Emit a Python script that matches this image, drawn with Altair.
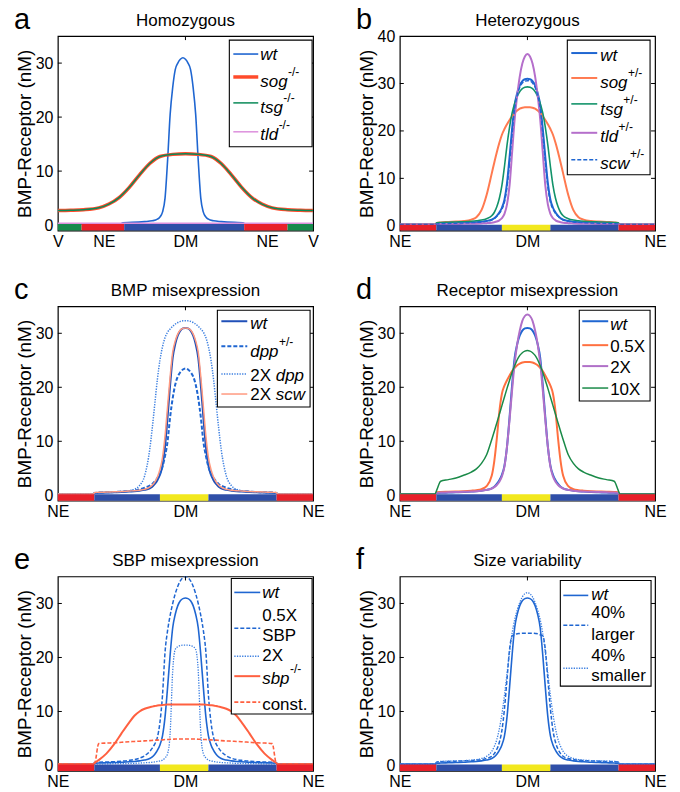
import altair as alt
import pandas as pd

FONT = "Liberation Sans"
BLUE = "#1F66D1"
LBLUE = "#3C7FE0"
RED_BAR, BLUE_BAR, YEL_BAR, GRN_BAR = "#E8202A", "#2F4FA8", "#F2E81E", "#168A4C"

# ---------------- data ----------------
# distance from the DM midline, fraction of the axis (panels b-f)
D = [0, .01, .02, .03, .04, .05, .06, .07, .08, .09, .10, .11, .12, .13, .14,
     .16, .18, .20, .22, .25, .28, .31, .34, .355, .362, .43, .5]

wt = [31, 30.9, 30.5, 29.6, 28.0, 25.5, 20.5, 14.5, 9.0, 5.5, 3.8, 2.8, 2.1, 1.6, 1.3,
      1.0, 0.85, 0.75, 0.7, 0.6, 0.55, 0.5, 0.45, 0.4, 0.25, 0.25, 0.25]
sog_het = [25, 25, 24.9, 24.7, 24.3, 23.8, 23.1, 22.3, 21.4, 20.4, 19.2, 17.5, 15.5, 13.3, 11.0,
           6.5, 3.3, 1.8, 1.3, 1.0, 0.9, 0.8, 0.7, 0.6, 0.25, 0.25, 0.25]
tsg_het = [29.3, 29.2, 28.9, 28.3, 27.3, 25.8, 23.8, 20.8, 17, 12.5, 8.5, 5.8, 4.0, 2.8, 2.1,
           1.5, 1.2, 1.05, 0.95, 0.85, 0.8, 0.75, 0.7, 0.65, 0.25, 0.25, 0.25]
tld_het = [36.2, 35.7, 34.2, 31.5, 27.5, 22.5, 15.5, 8.5, 4.5, 2.5, 1.6, 1.15, 0.9, 0.75, 0.65,
           0.55, 0.5, 0.45, 0.42, 0.4, 0.38, 0.36, 0.35, 0.34, 0.25, 0.25, 0.25]
scw_het = [30.6, 30.5, 30.1, 29.2, 27.5, 24.8, 19.5, 13.5, 8.2, 5.0, 3.5, 2.6, 2.0, 1.5, 1.2,
           0.95, 0.8, 0.72, 0.66, 0.6, 0.55, 0.5, 0.45, 0.4, 0.25, 0.25, 0.25]
dpp_het = [23.5, 23.3, 22.8, 22, 20.5, 18, 14.5, 10, 7.3, 5.3, 4.0, 3.2, 2.6, 2.1, 1.8,
           1.4, 1.1, 0.9, 0.8, 0.7, 0.6, 0.55, 0.5, 0.45, 0.25, 0.25, 0.25]
dpp_2x = [32.3, 32.3, 32.2, 32.0, 31.7, 31.3, 30.8, 30.2, 29.2, 27.5, 25, 21.5, 17, 12.5, 8.5,
          3.6, 1.8, 1.1, 0.85, 0.7, 0.6, 0.55, 0.5, 0.45, 0.25, 0.25, 0.25]
scw_2x = [31, 30.9, 30.6, 29.9, 28.6, 26.5, 22, 16.5, 11, 7, 4.8, 3.4, 2.5, 1.9, 1.5,
          1.1, 0.95, 0.85, 0.8, 0.7, 0.65, 0.6, 0.55, 0.5, 0.25, 0.25, 0.25]
rec_05x = [24.7, 24.7, 24.6, 24.4, 24.1, 23.6, 23, 22.2, 21.3, 20.3, 18.8, 15.5, 10.5, 6.3, 3.6,
           1.7, 1.15, 0.95, 0.85, 0.75, 0.7, 0.65, 0.6, 0.55, 0.25, 0.25, 0.25]
rec_2x = [33.5, 33.2, 32.3, 30.5, 28, 24.5, 19.5, 14, 9, 5.3, 3.5, 2.5, 1.9, 1.5, 1.25,
          1.0, 0.85, 0.75, 0.7, 0.65, 0.6, 0.55, 0.5, 0.45, 0.25, 0.25, 0.25]
rec_10x = [26.8, 26.7, 26.4, 25.9, 25.1, 24, 22.8, 21.3, 19.8, 18.2, 16.6, 15, 13.4, 11.8, 10.3,
           7.5, 5.9, 4.9, 4.3, 3.7, 3.2, 2.9, 2.6, 1.0, 0.25, 0.25, 0.25]
sbp_05x = [35, 34.8, 34.2, 33.2, 31.8, 30, 27.8, 25, 21, 13, 8, 5.2, 4.0, 3.2, 2.6,
           1.8, 1.35, 1.1, 0.95, 0.8, 0.7, 0.65, 0.6, 0.55, 0.25, 0.25, 0.25]
sbp_2x = [22.3, 22.3, 22.2, 22.0, 21.5, 17.5, 6, 2.2, 1.4, 1.0, 0.85, 0.75, 0.65, 0.6, 0.55,
          0.5, 0.45, 0.4, 0.38, 0.35, 0.33, 0.32, 0.3, 0.3, 0.25, 0.25, 0.25]
sbp_ko = [11.3, 11.3, 11.3, 11.3, 11.3, 11.3, 11.3, 11.3, 11.25, 11.2, 11.15, 11.1, 11.0, 10.9, 10.8,
          10.5, 10.0, 9.2, 8.0, 6.0, 3.9, 2.2, 1.0, 0.5, 0.25, 0.25, 0.25]
sbp_const = [4.9, 4.9, 4.9, 4.9, 4.9, 4.85, 4.85, 4.8, 4.8, 4.75, 4.75, 4.7, 4.7, 4.65, 4.6,
             4.55, 4.5, 4.45, 4.4, 4.3, 4.2, 4.15, 4.05, 0.5, 0.25, 0.25, 0.25]
size_larger = [24.5, 24.5, 24.5, 24.45, 24.4, 24.2, 24.0, 21.5, 16, 10.5, 6.5, 4.3, 3.0, 2.2, 1.7,
               1.3, 1.1, 1.0, 0.9, 0.85, 0.8, 0.75, 0.7, 0.65, 0.25, 0.25, 0.25]
size_smaller = [32, 31.8, 31.2, 30.2, 28.8, 27, 24.5, 21, 17, 13, 9.5, 6.8, 4.8, 3.5, 2.6,
                1.7, 1.3, 1.1, 1.0, 0.9, 0.85, 0.8, 0.75, 0.7, 0.25, 0.25, 0.25]

# panel a (V to V axis)
D_hom_wt = [0, .01, .02, .03, .04, .05, .06, .07, .08, .09, .10, .12, .15, .20, .235, .245, .30, .40, .51]
wt_hom = [31, 30.7, 30, 28.8, 25.5, 20.5, 12, 5, 2.4, 1.5, 1.1, 0.8, 0.65, 0.5, 0.45, 0.2, 0.2, 0.2, 0.2]
D_hom = [0, .05, .10, .14, .18, .22, .26, .30, .34, .40, .45, .5]
sog_hom = [13.2, 13.1, 12.7, 11.4, 9.3, 7.0, 5.1, 3.9, 3.2, 2.85, 2.75, 2.7]
tsg_hom = [13.2, 13.1, 12.7, 11.4, 9.3, 7.0, 5.1, 3.9, 3.2, 2.85, 2.75, 2.7]
D_flat = [0, 0.5]
tld_hom = [0.35, 0.35]

# tissue bars along the axis
bar_edges_hom = [0, 0.093, 0.26, 0.73, 0.9, 1.0]
bar_cols_hom = [GRN_BAR, RED_BAR, BLUE_BAR, RED_BAR, GRN_BAR]
bar_edges = [0, 0.143, 0.40, 0.59, 0.857, 1.0]
bar_cols = [RED_BAR, BLUE_BAR, YEL_BAR, BLUE_BAR, RED_BAR]

xticks_hom = [0, 0.18, 0.5, 0.82, 1]
xlabels_hom = ["V", "NE", "DM", "NE", "V"]
xticks_std = [0, 0.5, 1]
xlabels_std = ["NE", "DM", "NE"]

# ---------------- helpers ----------------
W = {" ": 278, "%": 889, "+": 584, "-": 333, ".": 278, "/": 278, "X": 667, "S": 667, "B": 667,
     "P": 667, "a": 556, "c": 500, "d": 556, "e": 556, "g": 556, "l": 222, "m": 833, "n": 556,
     "o": 556, "p": 556, "r": 333, "s": 500, "t": 278, "w": 722}


def tw(s, size):
    return sum(W.get(ch, 556) for ch in s) * size / 1000.0


def profile_table(center, offsets, values):
    rows = []
    for d, v in zip(offsets, values):
        rows.append((round(center - d, 4), v))
        if d > 0:
            rows.append((round(center + d, 4), v))
    rows.sort()
    return pd.DataFrame(rows, columns=["x", "y"])


def S(c, d, v, color, w=1.6, dash=None):
    return dict(c=c, d=d, v=v, color=color, w=w, dash=dash)


DASH = [4, 2]
DOT = [1.3, 1.3]

panels = [
    dict(letter="a", title="Homozygous", ymax=35, yticks=[0, 10, 20, 30],
         xticks=xticks_hom, xlabels=xlabels_hom, edges=bar_edges_hom, cols=bar_cols_hom,
         series=[S(0.49, D_hom_wt, wt_hom, BLUE, 1.6),
                 S(0.5, D_hom, sog_hom, "#FF4B2B", 3.5),
                 S(0.5, D_hom, tsg_hom, "#0A8A58", 1.5),
                 S(0.5, D_flat, tld_hom, "#DC8FDC", 1.5)],
         box=(172, 4, 255, 111), sample=(176, 201), tx=203,
         entries=[(18, [(19, [("wt", "i")])]),
                  (41, [(46, [("sog", "i"), ("-/-", "sup")])]),
                  (67, [(72, [("tsg", "i"), ("-/-", "sup")])]),
                  (96, [(99, [("tld", "i"), ("-/-", "sup")])])]),
    dict(letter="b", title="Heterozygous", ymax=40, yticks=[0, 10, 20, 30, 40],
         xticks=xticks_std, xlabels=xlabels_std, edges=bar_edges, cols=bar_cols,
         series=[S(0.5, D, wt, BLUE, 2.0),
                 S(0.5, D, sog_het, "#FF7A50", 2.0),
                 S(0.5, D, tsg_het, "#12936A", 1.6),
                 S(0.5, D, tld_het, "#B56FCB", 2.0),
                 S(0.5, D, scw_het, BLUE, 1.5, DASH)],
         box=(168, 4, 251, 139), sample=(172, 198), tx=201,
         entries=[(17, [(20, [("wt", "i")])]),
                  (42, [(47, [("sog", "i"), ("+/-", "sup")])]),
                  (68, [(74, [("tsg", "i"), ("+/-", "sup")])]),
                  (97, [(101, [("tld", "i"), ("+/-", "sup")])]),
                  (124, [(128, [("scw", "i"), ("+/-", "sup")])])]),
    dict(letter="c", title="BMP misexpression", ymax=35, yticks=[0, 10, 20, 30],
         xticks=xticks_std, xlabels=xlabels_std, edges=bar_edges, cols=bar_cols,
         series=[S(0.5, D, wt, "#2050B8", 2.0),
                 S(0.5, D, dpp_het, BLUE, 2.0, DASH),
                 S(0.5, D, dpp_2x, LBLUE, 1.5, DOT),
                 S(0.5, D, scw_2x, "#FF9A80", 1.5)],
         box=(160, 4, 253, 101), sample=(164, 190), tx=193,
         entries=[(15, [(18, [("wt", "i")])]),
                  (40, [(46, [("dpp", "i"), ("+/-", "sup")])]),
                  (68, [(70, [("2X ", "n"), ("dpp", "i")])]),
                  (88, [(89, [("2X ", "n"), ("scw", "i")])])]),
    dict(letter="d", title="Receptor misexpression", ymax=35, yticks=[0, 10, 20, 30],
         xticks=xticks_std, xlabels=xlabels_std, edges=bar_edges, cols=bar_cols,
         series=[S(0.5, D, wt, BLUE, 2.0),
                 S(0.5, D, rec_05x, "#FF7040", 2.0),
                 S(0.5, D, rec_2x, "#B070C8", 2.0),
                 S(0.5, D, rec_10x, "#1A8A48", 1.5)],
         box=(180, 4, 251, 95), sample=(183, 209), tx=211,
         entries=[(15, [(19, [("wt", "i")])]),
                  (39, [(41, [("0.5X", "n")])]),
                  (60, [(62, [("2X", "n")])]),
                  (82, [(84, [("10X", "n")])])]),
    dict(letter="e", title="SBP misexpression", ymax=35, yticks=[0, 10, 20, 30],
         xticks=xticks_std, xlabels=xlabels_std, edges=bar_edges, cols=bar_cols,
         series=[S(0.5, D, wt, BLUE, 1.6),
                 S(0.5, D, sbp_05x, BLUE, 1.5, DASH),
                 S(0.5, D, sbp_2x, LBLUE, 1.3, DOT),
                 S(0.5, D, sbp_ko, "#FF6040", 2.0),
                 S(0.5, D, sbp_const, "#FF6040", 1.6, DASH)],
         box=(174, 2, 255, 138), sample=(177, 203), tx=205,
         entries=[(16, [(17, [("wt", "i")])]),
                  (52, [(40, [("0.5X", "n")]), (60, [("SBP", "n")])]),
                  (80, [(80, [("2X", "n")])]),
                  (100, [(103, [("sbp", "i"), ("-/-", "sup")])]),
                  (126, [(129, [("const.", "n")])])]),
    dict(letter="f", title="Size variability", ymax=35, yticks=[0, 10, 20, 30],
         xticks=xticks_std, xlabels=xlabels_std, edges=bar_edges, cols=bar_cols,
         series=[S(0.5, D, wt, BLUE, 1.6),
                 S(0.5, D, size_larger, BLUE, 1.5, DASH),
                 S(0.5, D, size_smaller, LBLUE, 1.3, DOT)],
         box=(161, 4, 252, 110), sample=(164, 189), tx=192,
         entries=[(19, [(19, [("wt", "i")])]),
                  (49, [(37, [("40%", "n")]), (59, [("larger", "n")])]),
                  (92, [(80, [("40%", "n")]), (100, [("smaller", "n")])])]),
]

PW, PH = 256, 195
LFS, SFS = 17, 12
ONE = alt.Data(values=[{"k": 0}])


def make_panel(p):
    xs = alt.Scale(domain=[0, 1], nice=False, zero=False)
    ys = alt.Scale(domain=[-1, p["ymax"]], nice=False, zero=False)
    expr = ""
    for v, lab in zip(p["xticks"], p["xlabels"]):
        expr += f"datum.value == {v} ? '{lab}' : "
    expr += "''"
    xaxis = alt.Axis(values=p["xticks"], labelExpr=expr, title=None, labelPadding=3,
                     labelFlush=False, labelOverlap=False, labelBound=False)
    yaxis = alt.Axis(values=p["yticks"], title="BMP-Receptor (nM)", labelPadding=5,
                     titlePadding=1, labelOverlap=False)
    layers = []
    for s in p["series"]:
        df = profile_table(s["c"], s["d"], s["v"])
        mk = dict(color=s["color"], strokeWidth=s["w"], clip=True, interpolate="monotone")
        if s["dash"]:
            mk["strokeDash"] = s["dash"]
        layers.append(alt.Chart(df).mark_line(**mk).encode(
            x=alt.X("x:Q", scale=xs, axis=xaxis),
            y=alt.Y("y:Q", scale=ys, axis=yaxis)))
    bars = pd.DataFrame({"start": p["edges"][:-1], "end": p["edges"][1:], "col": p["cols"]})
    layers.append(alt.Chart(bars).mark_rect().encode(
        x=alt.X("start:Q", scale=xs, axis=xaxis), x2="end:Q",
        y=alt.datum(-1), y2=alt.datum(0.2),
        color=alt.Color("col:N", scale=None)))
    # inward MATLAB-style ticks
    yr = p["ymax"] + 1
    tx_len = 4.0 / PW
    ty_len = 4.0 * yr / PH
    yt = pd.DataFrame({"v": [t for t in p["yticks"] if 0 < t < p["ymax"]]})
    for a0, a1 in ((0, tx_len), (1 - tx_len, 1)):
        layers.append(alt.Chart(yt).mark_rule(color="black", strokeWidth=1).encode(
            x=alt.datum(a0), x2=alt.datum(a1), y=alt.Y("v:Q", scale=ys, axis=yaxis)))
    xt = pd.DataFrame({"v": [0.5]})
    layers.append(alt.Chart(xt).mark_rule(color="black", strokeWidth=1).encode(
        x=alt.X("v:Q", scale=xs, axis=xaxis), y=alt.datum(p["ymax"]),
        y2=alt.datum(p["ymax"] - ty_len)))
    # legend (drawn by hand to allow italics and superscripts)
    bx0, by0, bx1, by1 = p["box"]
    layers.append(alt.Chart(ONE).mark_rect(fill="white", stroke="black", strokeWidth=1.1).encode(
        x=alt.value(bx0), x2=alt.value(bx1), y=alt.value(by0), y2=alt.value(by1)))
    for s, (ly, lines) in zip(p["series"], p["entries"]):
        mk = dict(color=s["color"], strokeWidth=max(s["w"], 1.5))
        if s["dash"]:
            mk["strokeDash"] = s["dash"]
        layers.append(alt.Chart(ONE).mark_rule(**mk).encode(
            x=alt.value(p["sample"][0]), x2=alt.value(p["sample"][1]), y=alt.value(ly)))
        for ty, segs in lines:
            cx = p["tx"]
            for text, style in segs:
                if style == "sup":
                    layers.append(alt.Chart(ONE).mark_text(
                        text=text, font=FONT, fontSize=SFS, align="left", baseline="middle",
                        color="black").encode(x=alt.value(cx + 0.5), y=alt.value(ty - 10)))
                    cx += tw(text, SFS)
                else:
                    layers.append(alt.Chart(ONE).mark_text(
                        text=text, font=FONT, fontSize=LFS, align="left", baseline="middle",
                        fontStyle="italic" if style == "i" else "normal",
                        color="black").encode(x=alt.value(cx), y=alt.value(ty)))
                    cx += tw(text, LFS)
    # panel title and panel letter
    layers.append(alt.Chart(ONE).mark_text(
        text=p["title"], font=FONT, fontSize=17, align="center", baseline="alphabetic",
        color="black").encode(x=alt.value(PW / 2), y=alt.value(-10)))
    layers.append(alt.Chart(ONE).mark_text(
        text=p["letter"], font=FONT, fontSize=29, align="left", baseline="alphabetic",
        color="black").encode(x=alt.value(-44), y=alt.value(-7)))
    return alt.layer(*layers).properties(width=PW, height=PH)


charts = [make_panel(p) for p in panels]
chart = alt.concat(*charts, columns=2, spacing={"row": 76, "column": 87}, bounds="flush").properties(
    padding={"left": 5, "top": -4, "right": 5, "bottom": 0}
).configure_view(
    stroke="black", strokeWidth=1.2
).configure_axis(
    grid=False, domain=False, ticks=False, labelFont=FONT, titleFont=FONT,
    labelFontSize=16, titleFontSize=19, labelColor="black", titleColor="black",
    titleFontWeight="normal"
)

chart.save("out.html", embed_options={"renderer": "svg", "actions": False})
